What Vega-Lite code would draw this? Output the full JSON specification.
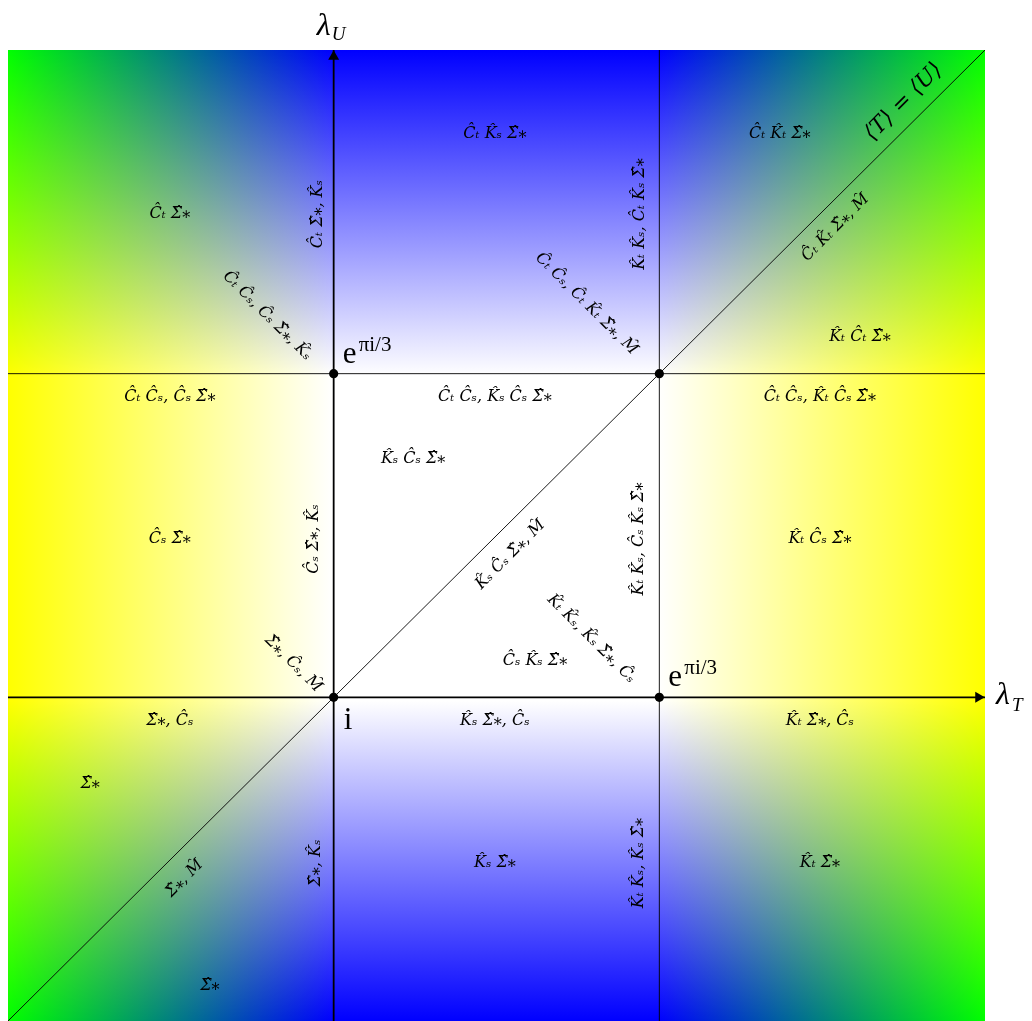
{
  "$schema": "https://vega.github.io/schema/vega-lite/v6.json",
  "width": 977,
  "height": 971,
  "autosize": {"type": "none"},
  "padding": {"left": 8, "top": 50, "right": 47, "bottom": 0},
  "background": "white",
  "config": {"view": {"stroke": null}},
  "datasets": {
    "area": [{"x": 0, "x2": 3, "y": 0, "y2": 3}],
    "thin": [
      {"x": 2, "y": 0, "x2": 2, "y2": 3},
      {"x": 0, "y": 2, "x2": 3, "y2": 2},
      {"x": 0, "y": 0, "x2": 3, "y2": 3}
    ],
    "thick": [
      {"x": 0, "y": 1, "x2": 3, "y2": 1},
      {"x": 1, "y": 0, "x2": 1, "y2": 3}
    ],
    "pts": [{"x": 1, "y": 1}, {"x": 1, "y": 2}, {"x": 2, "y": 2}, {"x": 2, "y": 1}],
    "hlab": [
      {"x": 1.495, "y": 2.744, "t": "\u0108\u209c K\u0302\u209b \u03a3\u0302\u204e"},
      {"x": 2.37, "y": 2.744, "t": "\u0108\u209c K\u0302\u209c \u03a3\u0302\u204e"},
      {"x": 0.497, "y": 2.496, "t": "\u0108\u209c \u03a3\u0302\u204e"},
      {"x": 2.616, "y": 2.116, "t": "K\u0302\u209c \u0108\u209c \u03a3\u0302\u204e"},
      {"x": 0.497, "y": 1.931, "t": "\u0108\u209c \u0108\u209b, \u0108\u209b \u03a3\u0302\u204e"},
      {"x": 1.495, "y": 1.931, "t": "\u0108\u209c \u0108\u209b, K\u0302\u209b \u0108\u209b \u03a3\u0302\u204e"},
      {"x": 2.493, "y": 1.931, "t": "\u0108\u209c \u0108\u209b, K\u0302\u209c \u0108\u209b \u03a3\u0302\u204e"},
      {"x": 1.244, "y": 1.739, "t": "K\u0302\u209b \u0108\u209b \u03a3\u0302\u204e"},
      {"x": 0.497, "y": 1.492, "t": "\u0108\u209b \u03a3\u0302\u204e"},
      {"x": 2.493, "y": 1.492, "t": "K\u0302\u209c \u0108\u209b \u03a3\u0302\u204e"},
      {"x": 1.618, "y": 1.115, "t": "\u0108\u209b K\u0302\u209b \u03a3\u0302\u204e"},
      {"x": 0.497, "y": 0.93, "t": "\u03a3\u0302\u204e, \u0108\u209b"},
      {"x": 1.495, "y": 0.93, "t": "K\u0302\u209b \u03a3\u0302\u204e, \u0108\u209b"},
      {"x": 2.493, "y": 0.93, "t": "K\u0302\u209c \u03a3\u0302\u204e, \u0108\u209b"},
      {"x": 0.252, "y": 0.735, "t": "\u03a3\u0302\u204e"},
      {"x": 1.495, "y": 0.491, "t": "K\u0302\u209b \u03a3\u0302\u204e"},
      {"x": 2.493, "y": 0.491, "t": "K\u0302\u209c \u03a3\u0302\u204e"},
      {"x": 0.62, "y": 0.111, "t": "\u03a3\u0302\u204e"}
    ],
    "vlab": [
      {"x": 0.949, "y": 2.493, "t": "\u0108\u209c \u03a3\u0302\u204e, K\u0302\u209b"},
      {"x": 1.9375, "y": 2.493, "t": "K\u0302\u209c K\u0302\u209b, \u0108\u209c K\u0302\u209b \u03a3\u0302\u204e"},
      {"x": 0.937, "y": 1.489, "t": "\u0108\u209b \u03a3\u0302\u204e, K\u0302\u209b"},
      {"x": 1.934, "y": 1.489, "t": "K\u0302\u209c K\u0302\u209b, \u0108\u209b K\u0302\u209b \u03a3\u0302\u204e"},
      {"x": 0.943, "y": 0.488, "t": "\u03a3\u0302\u204e, K\u0302\u209b"},
      {"x": 1.934, "y": 0.488, "t": "K\u0302\u209c K\u0302\u209b, K\u0302\u209b \u03a3\u0302\u204e"}
    ],
    "dlab": [
      {"x": 0.798, "y": 2.181, "t": "\u0108\u209c \u0108\u209b, \u0108\u209b \u03a3\u0302\u204e, K\u0302\u209b"},
      {"x": 1.778, "y": 2.218, "t": "\u0108\u209c \u0108\u209b, \u0108\u209c K\u0302\u209c \u03a3\u0302\u204e, M\u0302"},
      {"x": 1.793, "y": 1.183, "t": "K\u0302\u209c K\u0302\u209b, K\u0302\u209b \u03a3\u0302\u204e, \u0108\u209b"},
      {"x": 0.878, "y": 1.106, "t": "\u03a3\u0302\u204e, \u0108\u209b, M\u0302"}
    ],
    "ulab": [
      {"x": 2.539, "y": 2.453, "t": "\u0108\u209c K\u0302\u209c \u03a3\u0302\u204e, M\u0302"},
      {"x": 1.541, "y": 1.443, "t": "K\u0302\u209b \u0108\u209b \u03a3\u0302\u204e, M\u0302"},
      {"x": 0.54, "y": 0.442, "t": "\u03a3\u0302\u204e, M\u0302"}
    ]
  },
  "layer": [
    {
      "data": {"name": "area"},
      "mark": {
        "type": "rect",
        "fill": {
          "gradient": "linear", "x1": 0, "y1": 0, "x2": 0, "y2": 1,
          "stops": [
            {"offset": 0, "color": "#000000"},
            {"offset": 0.3357, "color": "#ffff00"},
            {"offset": 0.6704, "color": "#ffff00"},
            {"offset": 1, "color": "#000000"}
          ]
        }
      },
      "encoding": {
        "x": {"field": "x", "type": "quantitative", "scale": {"domain": [0, 3], "nice": false, "zero": false}, "axis": null},
        "x2": {"field": "x2"},
        "y": {"field": "y", "type": "quantitative", "scale": {"domain": [0, 3], "nice": false, "zero": false}, "axis": null},
        "y2": {"field": "y2"}
      }
    },
    {
      "data": {"name": "area"},
      "mark": {
        "type": "rect",
        "blend": "screen",
        "fill": {
          "gradient": "linear", "x1": 0, "y1": 0, "x2": 1, "y2": 0,
          "stops": [
            {"offset": 0, "color": "#00ff00"},
            {"offset": 0.3327, "color": "#0000ff"},
            {"offset": 0.6653, "color": "#0000ff"},
            {"offset": 1, "color": "#00ff00"}
          ]
        }
      },
      "encoding": {
        "x": {"field": "x", "type": "quantitative"},
        "x2": {"field": "x2"},
        "y": {"field": "y", "type": "quantitative"},
        "y2": {"field": "y2"}
      }
    },
    {
      "data": {"name": "thin"},
      "mark": {"type": "rule", "color": "black", "strokeWidth": 0.9},
      "encoding": {
        "x": {"field": "x", "type": "quantitative"},
        "x2": {"field": "x2"},
        "y": {"field": "y", "type": "quantitative"},
        "y2": {"field": "y2"}
      }
    },
    {
      "data": {"name": "thick"},
      "mark": {"type": "rule", "color": "black", "strokeWidth": 1.8},
      "encoding": {
        "x": {"field": "x", "type": "quantitative"},
        "x2": {"field": "x2"},
        "y": {"field": "y", "type": "quantitative"},
        "y2": {"field": "y2"}
      }
    },
    {
      "data": {"values": [{"x": 3, "y": 1}]},
      "mark": {"type": "point", "shape": "triangle-right", "filled": true, "color": "black", "opacity": 1, "size": 120, "xOffset": -5},
      "encoding": {
        "x": {"field": "x", "type": "quantitative"},
        "y": {"field": "y", "type": "quantitative"}
      }
    },
    {
      "data": {"values": [{"x": 1, "y": 3}]},
      "mark": {"type": "point", "shape": "triangle-up", "filled": true, "color": "black", "opacity": 1, "size": 120, "yOffset": 5},
      "encoding": {
        "x": {"field": "x", "type": "quantitative"},
        "y": {"field": "y", "type": "quantitative"}
      }
    },
    {
      "data": {"name": "pts"},
      "mark": {"type": "circle", "color": "black", "opacity": 1, "size": 85},
      "encoding": {
        "x": {"field": "x", "type": "quantitative"},
        "y": {"field": "y", "type": "quantitative"}
      }
    },
    {
      "data": {"name": "hlab"},
      "mark": {"type": "text", "font": "DejaVu Serif", "fontStyle": "italic", "fontSize": 16, "align": "center", "baseline": "middle", "color": "black"},
      "encoding": {
        "x": {"field": "x", "type": "quantitative"},
        "y": {"field": "y", "type": "quantitative"},
        "text": {"field": "t"}
      }
    },
    {
      "data": {"name": "vlab"},
      "mark": {"type": "text", "font": "DejaVu Serif", "fontStyle": "italic", "fontSize": 16, "align": "center", "baseline": "middle", "angle": 270, "color": "black"},
      "encoding": {
        "x": {"field": "x", "type": "quantitative"},
        "y": {"field": "y", "type": "quantitative"},
        "text": {"field": "t"}
      }
    },
    {
      "data": {"name": "dlab"},
      "mark": {"type": "text", "font": "DejaVu Serif", "fontStyle": "italic", "fontSize": 16, "align": "center", "baseline": "middle", "angle": 45, "color": "black"},
      "encoding": {
        "x": {"field": "x", "type": "quantitative"},
        "y": {"field": "y", "type": "quantitative"},
        "text": {"field": "t"}
      }
    },
    {
      "data": {"name": "ulab"},
      "mark": {"type": "text", "font": "DejaVu Serif", "fontStyle": "italic", "fontSize": 16, "align": "center", "baseline": "middle", "angle": 315, "color": "black"},
      "encoding": {
        "x": {"field": "x", "type": "quantitative"},
        "y": {"field": "y", "type": "quantitative"},
        "text": {"field": "t"}
      }
    },
    {
      "data": {"values": [{"x": 2.748, "y": 2.842, "t": "\u27e8T\u27e9 = \u27e8U\u27e9"}]},
      "mark": {"type": "text", "font": "DejaVu Serif", "fontStyle": "italic", "fontSize": 22, "align": "center", "baseline": "middle", "angle": 315, "color": "black"},
      "encoding": {
        "x": {"field": "x", "type": "quantitative"},
        "y": {"field": "y", "type": "quantitative"},
        "text": {"field": "t"}
      }
    },
    {
      "data": {"values": [{"x": 1, "y": 2, "t": "e"}, {"x": 2, "y": 1, "t": "e"}]},
      "mark": {"type": "text", "font": "Liberation Serif", "fontSize": 31, "align": "left", "baseline": "alphabetic", "dx": 9, "dy": -11, "color": "black"},
      "encoding": {
        "x": {"field": "x", "type": "quantitative"},
        "y": {"field": "y", "type": "quantitative"},
        "text": {"field": "t"}
      }
    },
    {
      "data": {"values": [{"x": 1, "y": 2, "t": "\u03c0i/3"}, {"x": 2, "y": 1, "t": "\u03c0i/3"}]},
      "mark": {"type": "text", "font": "Liberation Serif", "fontSize": 21, "align": "left", "baseline": "alphabetic", "dx": 25, "dy": -23, "color": "black"},
      "encoding": {
        "x": {"field": "x", "type": "quantitative"},
        "y": {"field": "y", "type": "quantitative"},
        "text": {"field": "t"}
      }
    },
    {
      "data": {"values": [{"x": 1, "y": 1, "t": "i"}]},
      "mark": {"type": "text", "font": "Liberation Serif", "fontSize": 31, "align": "left", "baseline": "alphabetic", "dx": 10, "dy": 32, "color": "black"},
      "encoding": {
        "x": {"field": "x", "type": "quantitative"},
        "y": {"field": "y", "type": "quantitative"},
        "text": {"field": "t"}
      }
    },
    {
      "data": {"values": [{"x": 1, "y": 3, "t": "\u03bb"}]},
      "mark": {"type": "text", "font": "Liberation Serif", "fontStyle": "italic", "fontSize": 32, "align": "center", "baseline": "alphabetic", "dx": -10, "dy": -15, "color": "black"},
      "encoding": {
        "x": {"field": "x", "type": "quantitative"},
        "y": {"field": "y", "type": "quantitative"},
        "text": {"field": "t"}
      }
    },
    {
      "data": {"values": [{"x": 1, "y": 3, "t": "U"}]},
      "mark": {"type": "text", "font": "Liberation Serif", "fontStyle": "italic", "fontSize": 19, "align": "left", "baseline": "alphabetic", "dx": -2, "dy": -10, "color": "black"},
      "encoding": {
        "x": {"field": "x", "type": "quantitative"},
        "y": {"field": "y", "type": "quantitative"},
        "text": {"field": "t"}
      }
    },
    {
      "data": {"values": [{"x": 3, "y": 1, "t": "\u03bb"}]},
      "mark": {"type": "text", "font": "Liberation Serif", "fontStyle": "italic", "fontSize": 32, "align": "center", "baseline": "alphabetic", "dx": 18, "dy": 7, "color": "black"},
      "encoding": {
        "x": {"field": "x", "type": "quantitative"},
        "y": {"field": "y", "type": "quantitative"},
        "text": {"field": "t"}
      }
    },
    {
      "data": {"values": [{"x": 3, "y": 1, "t": "T"}]},
      "mark": {"type": "text", "font": "Liberation Serif", "fontStyle": "italic", "fontSize": 19, "align": "left", "baseline": "alphabetic", "dx": 27, "dy": 14, "color": "black"},
      "encoding": {
        "x": {"field": "x", "type": "quantitative"},
        "y": {"field": "y", "type": "quantitative"},
        "text": {"field": "t"}
      }
    }
  ]
}
